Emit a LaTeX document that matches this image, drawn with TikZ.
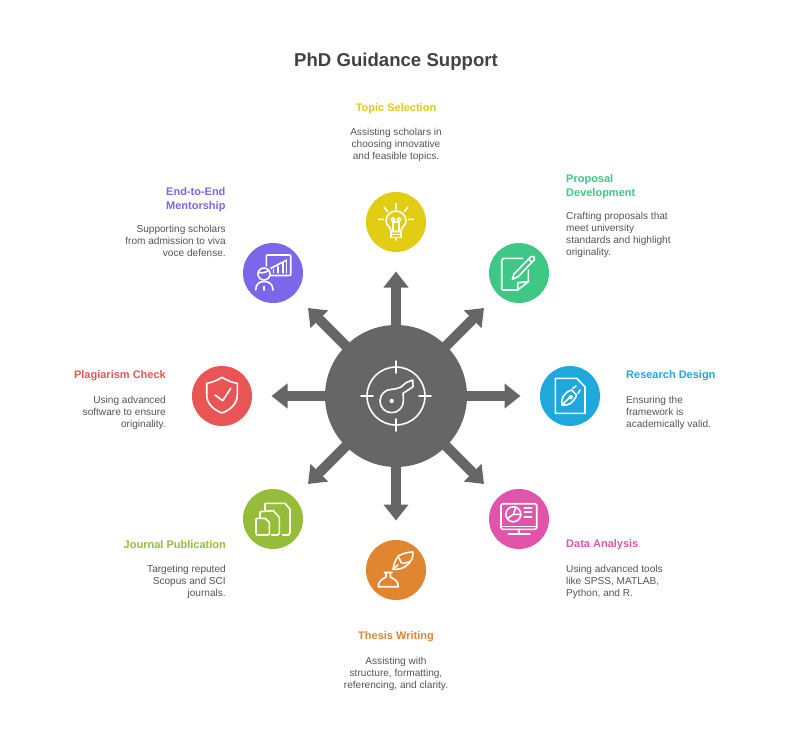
\documentclass[tikz,border=0pt]{standalone}
\usepackage{fontspec}
\setmainfont{Liberation Sans}
\usetikzlibrary{arrows.meta}
\definecolor{cyellow}{HTML}{E2CC14}
\definecolor{cgreen}{HTML}{3EC785}
\definecolor{cblue}{HTML}{1EA8DC}
\definecolor{cpink}{HTML}{E055A9}
\definecolor{corange}{HTML}{E08530}
\definecolor{clime}{HTML}{95BD3A}
\definecolor{cred}{HTML}{E95555}
\definecolor{cpurple}{HTML}{7C66EA}
\definecolor{chub}{HTML}{666666}
\definecolor{ctitle}{HTML}{424242}
\definecolor{cbody}{HTML}{555555}
\tikzset{
  x=1pt,y=-1pt,
  hubnode/.style={circle,fill=chub,minimum size=142pt,inner sep=0pt},
  stepdot/.style={circle,fill=#1,minimum size=60pt,inner sep=0pt},
  spoke/.style={draw=chub,line width=10pt,shorten <=-3pt,-{Triangle[width=24pt,length=16pt]}},
  icon/.style={draw=white,line width=1.6pt,line join=round,line cap=round},
  titletext/.style={font=\bfseries\fontsize{18.6}{22}\selectfont,text=ctitle,inner sep=0pt},
  head/.style={font=\bfseries\fontsize{11}{14}\selectfont,text=#1,inner sep=0pt},
  body/.style={font=\fontsize{10.1}{12}\selectfont,text=cbody,inner sep=0pt},
}
\begin{document}
\begin{tikzpicture}
\useasboundingbox (0,0) rectangle (792,738);
\fill[white] (0,0) rectangle (792,738);
% hub and circles
\node[hubnode] (hub) at (396,396) {};
\node[stepdot=cyellow] (n1) at (396,222) {};
\node[stepdot=cgreen] (n2) at (519,273) {};
\node[stepdot=cblue] (n3) at (570,396) {};
\node[stepdot=cpink] (n4) at (519,519) {};
\node[stepdot=corange] (n5) at (396,570) {};
\node[stepdot=clime] (n6) at (273,519) {};
\node[stepdot=cred] (n7) at (222,396) {};
\node[stepdot=cpurple] (n8) at (273,273) {};
% arrow tips
\coordinate (t1) at (396,271.5);
\coordinate (t2) at (484,308);
\coordinate (t3) at (520.5,396);
\coordinate (t4) at (484,484);
\coordinate (t5) at (396,520.5);
\coordinate (t6) at (308,484);
\coordinate (t7) at (271.5,396);
\coordinate (t8) at (308,308);
\foreach \i in {1,...,8} {\draw[spoke] (hub) -- (t\i);}
% title
\node[titletext] (title) at (396,61.5) {PhD Guidance Support};
% labels
\node[head=cyellow] (h1) at (396,108.5) {Topic Selection};
\node[body,align=center] (b1) at (396,144.5) {Assisting scholars in\\choosing innovative\\and feasible topics.};
\node[head=cgreen,align=left,anchor=west] (h2) at (566,187) {Proposal\\Development};
\node[body,align=left,anchor=west] (b2) at (566,234.5) {Crafting proposals that\\meet university\\standards and highlight\\originality.};
\node[head=cblue,anchor=west] (h3) at (626,376) {Research Design};
\node[body,align=left,anchor=west] (b3) at (626,412.5) {Ensuring the\\framework is\\academically valid.};
\node[head=cpink,anchor=west] (h4) at (566,545) {Data Analysis};
\node[body,align=left,anchor=west] (b4) at (566,581.5) {Using advanced tools\\like SPSS, MATLAB,\\Python, and R.};
\node[head=corange] (h5) at (396,637) {Thesis Writing};
\node[body,align=center] (b5) at (396,673.5) {Assisting with\\structure, formatting,\\referencing, and clarity.};
\node[head=clime,anchor=east] (h6) at (226,545) {Journal Publication};
\node[body,align=right,anchor=east] (b6) at (226,581.5) {Targeting reputed\\Scopus and SCI\\journals.};
\node[head=cred,anchor=east] (h7) at (166,376) {Plagiarism Check};
\node[body,align=right,anchor=east] (b7) at (166,412.5) {Using advanced\\software to ensure\\originality.};
\node[head=cpurple,align=left,anchor=west] (h8) at (166,199.5) {End-to-End\\Mentorship};
\node[body,align=right,anchor=east] (b8) at (226,240.5) {Supporting scholars\\from admission to viva\\voce defense.};
% hub icon
\begin{scope}[shift={(hub.center)},icon]
  \draw (0,0) circle[radius=29];
  \draw (0,-35)--(0,-23) (0,23)--(0,35) (-35,0)--(-23,0) (23,0)--(35,0);
  \draw (-4.3,-6.7) .. controls (-2,-6.7) and (2,-7.5) .. (5,-9) -- (10,-13.3) -- (16.7,-16) -- (17,-9.3) -- (11.7,-5.7) -- (7,-2.8)
     .. controls (7.4,-1) and (7.4,3) .. (7.4,5) .. controls (7.4,11.5) and (2,16.7) .. (-4.3,16.7)
     .. controls (-10.8,16.7) and (-16,11.5) .. (-16,5) .. controls (-16,-1.5) and (-10.8,-6.7) .. (-4.3,-6.7) -- cycle;
  \fill[white,draw=none] (-4.3,5) circle[radius=2.2];
\end{scope}
% yellow bulb
\begin{scope}[shift={(n1.center)},icon]
  \draw (0,-18)--(0,-13) (-17.3,-2.7)--(-12.7,-2.7) (17.3,-2.7)--(12.7,-2.7) (-11.7,-14.7)--(-8.3,-10.3) (11.7,-14.7)--(8.3,-10.3);
  \draw (-5,9.5) .. controls (-5,5) and (-10,3.5) .. (-10,-1) .. controls (-10,-6.5) and (-5.5,-11) .. (0,-11)
     .. controls (5.5,-11) and (10,-6.5) .. (10,-1) .. controls (10,3.5) and (5,5) .. (5,9.5) -- cycle;
  \draw (-5,9.5)--(-5,15.5) -- (5,15.5) -- (5,9.5) (-5,12.5)--(5,12.5) (0,15.5)--(0,18);
  \draw (-3.2,9.5)--(-3.2,-0.5) (3.2,9.5)--(3.2,-0.5) (-3.2,0)--(3.2,0);
  \draw (-3.2,-2.5) circle[radius=1.9] (3.2,-2.5) circle[radius=1.9];
\end{scope}
% green proposal
\begin{scope}[shift={(n2.center)},icon]
  \draw (3.7,-14.7) -- (-15.3,-14.7) .. controls (-16.7,-14.7) .. (-17.3,-13) -- (-17.3,15) .. controls (-17.3,16.5) .. (-15.5,17) -- (-1.3,17)
     -- (9.3,8.7) -- (9.3,-3);
  \draw (-1.3,17) -- (-1.3,9.7) -- (9.3,8.7);
  \draw (-6.7,6.3) -- (-5,1) -- (12,-16.3) .. controls (14,-18) and (16.5,-16) .. (15.5,-13.5) -- (-1,3.8) -- cycle;
  \draw (9.5,-14) -- (13,-10.5);
\end{scope}
% blue research
\begin{scope}[shift={(n3.center)},icon]
  \draw (-14.7,-17.7) -- (6.7,-17.7) -- (15,-9.3) -- (15,17.3) -- (-14.7,17.3) -- cycle;
  \draw (-8,9) .. controls (-9,3) and (-7,-3) .. (1.5,-6) -- (6.5,-1) .. controls (4,7) and (-2,10) .. (-8,9) -- cycle;
  \draw (-8,9) -- (-1,2);
  \draw (0.8,1.2) circle[radius=1.6];
  \draw (2.5,-7.5) -- (6,-10) (8,-2.5) -- (10,-6);
\end{scope}
% pink monitor
\begin{scope}[shift={(n4.center)},icon]
  \draw[rounded corners=1.5pt] (-18,-15.3) rectangle (17.7,10.3);
  \draw (-18,7.5)--(17.7,7.5) (0,10.3)--(0,14.7) (-10.7,14.7)--(11,14.7);
  \draw (-5.7,-4.7) circle[radius=7.5];
  \draw (-5.7,-4.7)--(-3,-12) (-5.7,-4.7)--(1.8,-4.7) (-5.7,-4.7)--(-11.5,-0.5);
  \draw (5.3,-11.3)--(12.7,-11.3) (5.3,-7)--(12.7,-7) (5.3,-2.3)--(12.7,-2.3);
\end{scope}
% orange ink
\begin{scope}[shift={(n5.center)},icon]
  \draw (-11.7,2.5) -- (-4,2.5) (-10,2.5) -- (-10,7) .. controls (-14.5,9.5) and (-17.7,11.5) .. (-17.7,16.7) -- (2.3,16.7)
     .. controls (2.3,11.5) and (-0.8,9.5) .. (-5.6,7) -- (-5.6,2.5);
  \draw (-3,-0.7) .. controls (-2,-7) and (0,-11) .. (2.5,-14) .. controls (7,-17) and (13,-18) .. (16.7,-18)
     .. controls (17.5,-13) and (16,-9) .. (10,-4) .. controls (6,-1) and (1,-0.3) .. (-3,-0.7) -- cycle;
  \draw (-3,-0.7) -- (2,-5);
  \draw (3,-12) -- (5.5,-7) (13,-8) -- (7,-6.5);
\end{scope}
% lime journals
\begin{scope}[shift={(n6.center)},icon]
  \draw (-17,14) -- (-17,1) .. controls (-17,-0.5) .. (-15,-0.7) -- (-8,-0.7) -- (-3.7,3.5) -- (-3.7,14) .. controls (-3.7,15.5) .. (-5.5,16) -- (-15,16) .. controls (-16.5,16) .. (-17,14);
  \draw (-13,-0.7) -- (-13,-6) .. controls (-13,-7.5) .. (-11,-7.5) -- (0.3,-8.3) -- (6.3,-1.7) -- (6.3,14) .. controls (6.3,15.5) .. (5,16) -- (-1.3,16);
  \draw (-8,-9) -- (-8,-14) .. controls (-8,-15.5) .. (-6,-15.7) -- (12,-15.7) -- (17,-9.7) -- (17,14) .. controls (17,15.5) .. (15.5,16) -- (9.7,16);
\end{scope}
% red shield
\begin{scope}[shift={(n7.center)},icon]
  \draw (0,-18.7) .. controls (5,-15.5) and (10,-13.5) .. (15.3,-12.7) -- (15.3,-1) .. controls (15.3,8) and (8,14) .. (0,17)
     .. controls (-8,14) and (-15.3,8) .. (-15.3,-1) -- (-15.3,-12.7) .. controls (-10,-13.5) and (-5,-15.5) .. (0,-18.7) -- cycle;
  \draw (-7,-1) -- (0.7,4.7) -- (8.7,-7.7);
\end{scope}
% purple mentor
\begin{scope}[shift={(n8.center)},icon]
  \draw (-6.7,-7) -- (-6.7,-16) .. controls (-6.7,-18) .. (-5,-18) -- (16,-18) .. controls (17.7,-18) .. (17.7,-16) -- (17.7,0.5) .. controls (17.7,2.5) .. (16,2.5) -- (-2.3,2.5);
  \draw (0.3,-3.7) -- (0.3,-0.3) (5,-6.3) -- (5,-0.3) (9.7,-9.7) -- (9.7,-0.3) (13.3,-13) -- (13.3,-0.3);
  \draw (-2.3,-4.7) -- (12.7,-12.3);
  \draw (-9,1) circle[radius=6];
  \draw (-14.8,-0.5) .. controls (-11,0.3) and (-7,-0.5) .. (-4.5,-2.5);
  \draw (-17.3,17) .. controls (-17.3,11) and (-13.5,8.5) .. (-8.8,8.5) .. controls (-4,8.5) and (0,11) .. (0,17);
  \draw (-8.8,13.5) -- (-8.8,17);
\end{scope}
\end{tikzpicture}
\end{document}
